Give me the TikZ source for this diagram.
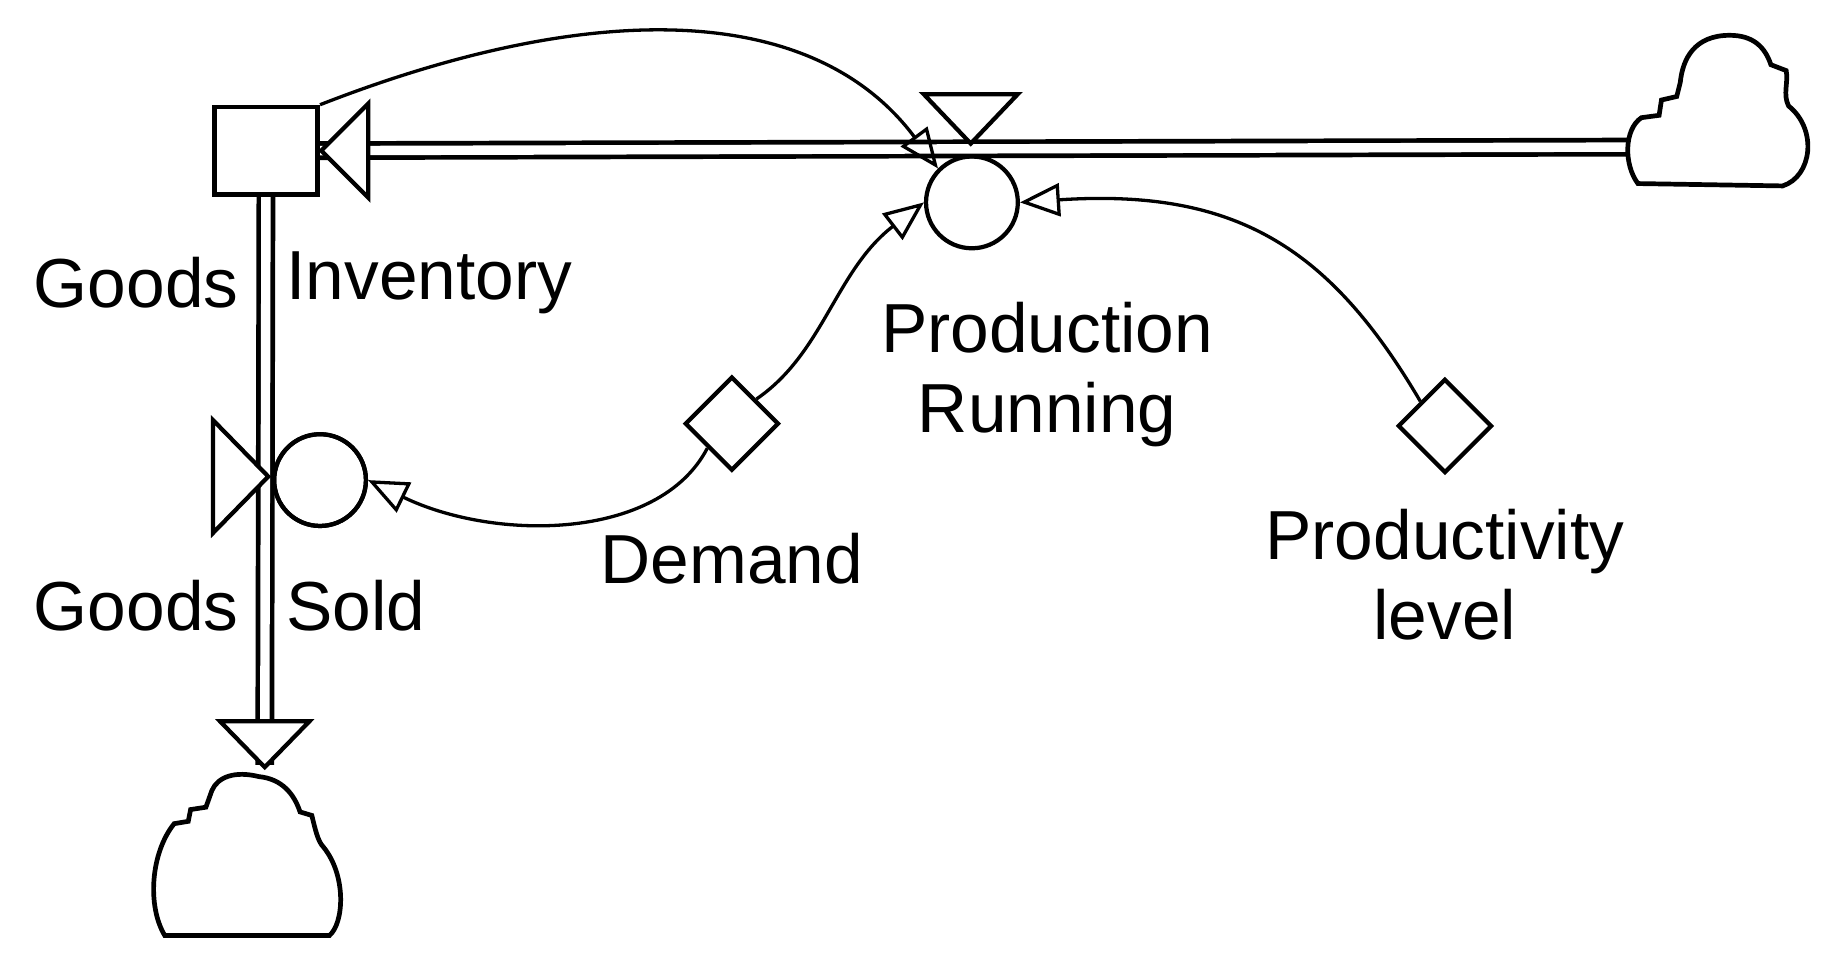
\documentclass[tikz,border=0pt]{standalone}
\usepackage{fontspec}
\setmainfont{Liberation Sans}
\usetikzlibrary{arrows.meta,shapes.geometric}
\begin{document}
\begin{tikzpicture}[x=0.5pt,y=-0.5pt,
  lbl/.style={font=\fontsize{29.5}{34}\selectfont,align=center,inner sep=0},
  aux/.style={circle,draw,line width=1.8pt,minimum size=39pt,inner sep=0},
  const/.style={diamond,draw,line width=1.8pt,minimum size=40pt,inner sep=0},
  pipe/.style={double distance=4pt,line width=2pt},
  tri/.style={draw,line width=1.8pt,fill=white},
  link/.style={line width=1.4pt,-{Triangle[open,length=17pt,width=14pt,line width=1.4pt]}},
  cloud/.style={line width=2pt,fill=white}]
\useasboundingbox (0,0) rectangle (1568,820);
% nodes
\node[draw,line width=2pt,minimum width=44pt,minimum height=37pt,inner sep=0] (stock) at (226,128) {};
\node[aux] (prod) at (826,172) {};
\node[aux] (sold) at (272,408) {};
\node[const] (dem) at (622,360) {};
\node[const] (pl) at (1228,362) {};
\coordinate (rc) at (1385,125);
\coordinate (bc) at (225,660);
% pipes
\draw[pipe] (rc) -- (stock.east);
\draw[pipe] (stock.south) -- (225,650);
% flow arrowheads
\draw[tri] (273,128) -- (313,88) -- (313,168) -- cycle;
\draw[tri] (825,122) -- (785,80) -- (865,80) -- cycle;
\draw[tri] (225,652) -- (187,613) -- (263,613) -- cycle;
% bowtie valve
\draw[tri] (228,405) -- (181,357) -- (181,453) -- cycle;
\node[aux] at (sold) {};
\node[draw,line width=2pt,minimum width=44pt,minimum height=37pt,inner sep=0,fill=white] at (stock) {};
% clouds
\draw[cloud] (1392,156) .. controls (1380,140) and (1380,110) .. (1395,100)
  -- (1410,98) -- (1412,85) -- (1425,82) -- (1428,70)
  .. controls (1430,50) and (1440,30) .. (1470,30)
  .. controls (1490,30) and (1500,40) .. (1505,55)
  -- (1518,60) .. controls (1520,70) and (1515,80) .. (1520,90)
  .. controls (1545,110) and (1540,150) .. (1515,158) -- cycle;
\draw[cloud] (140,795) .. controls (125,770) and (128,725) .. (148,700)
  -- (160,698) -- (162,688) -- (175,686) -- (180,672)
  .. controls (185,660) and (200,655) .. (220,660)
  .. controls (240,662) and (250,675) .. (255,690)
  -- (265,693) .. controls (268,705) and (270,715) .. (275,720)
  .. controls (295,745) and (292,785) .. (280,795) -- cycle;
% links
\draw[link] (dem.north east) .. controls (700,300) and (710,230) .. (prod.west);
\draw[link] (dem.south west) .. controls (560,460) and (420,460) .. (sold.east);
\draw[link] (pl.north west) .. controls (1130,210) and (1050,160) .. (prod.east);
\draw[link] (stock.north east) .. controls (500,0) and (690,0) .. (prod.north west);
% labels
\node[lbl,anchor=east] at (203,240) {Goods};
\node[lbl,anchor=west] at (243,240) {Inventory};
\node[lbl,anchor=east] at (203,515) {Goods};
\node[lbl,anchor=west] at (243,515) {Sold};
\node[lbl] at (890,318) {Production\\Running};
\node[lbl] at (622,475) {Demand};
\node[lbl] at (1228,488) {Productivity\\level};
\end{tikzpicture}
\end{document}
